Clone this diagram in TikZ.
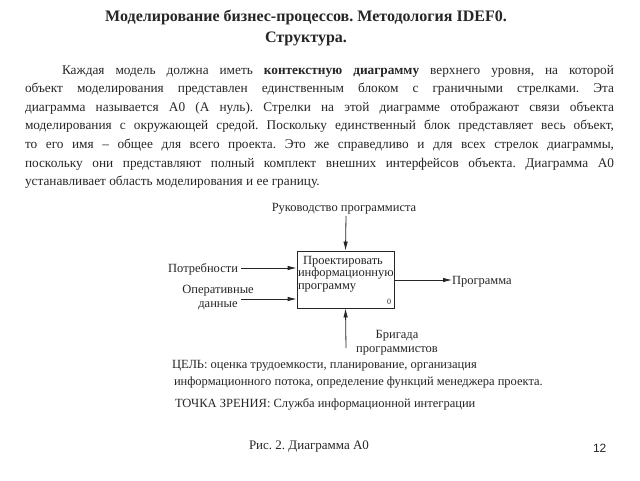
\documentclass[tikz,border=0pt]{standalone}
\usepackage{fontspec}
\setmainfont{Liberation Serif}
\newfontfamily\arialf{Liberation Sans}
\usetikzlibrary{arrows.meta}
\frenchspacing
\begin{document}
\begin{tikzpicture}[x=1pt,y=-1pt,
  txt/.style={inner sep=0pt, outer sep=0pt, text=black!85},
  lbl/.style={txt, font=\fontsize{12.5}{14}\selectfont},
  arr/.style={-{Latex[length=9pt,width=4.5pt]}, line width=0.8pt, black!85},
  blk/.style={draw=black!85, line width=0.8pt, minimum width=97pt, minimum height=57pt, inner sep=0pt}
  ]
\useasboundingbox[fill=white] (0,0) rectangle (640,480);
% title
\node[txt, font=\fontsize{16}{18}\selectfont\bfseries, anchor=base] (t1) at (306,21) {Моделирование бизнес-процессов. Методология IDEF0.};
\node[txt, font=\fontsize{16}{18}\selectfont\bfseries, anchor=base] (t2) at (306,42) {Структура.};
% paragraph
\node[txt, font=\fontsize{13.3}{18.6}\selectfont, text width=589pt, align=justify, anchor=north west] (par) at (25,65)
{\frenchspacing\hspace*{37pt}Каждая модель должна иметь \textbf{контекстную диаграмму} верхнего уровня, на которой\linebreak
объект моделирования представлен единственным блоком с граничными стрелками. Эта\linebreak
диаграмма называется А0 (А нуль). Стрелки на этой диаграмме отображают связи объекта\linebreak
моделирования с окружающей средой. Поскольку единственный блок представляет весь объект,\linebreak
то его имя -- общее для всего проекта. Это же справедливо и для всех стрелок диаграммы,\linebreak
поскольку они представляют полный комплект внешних интерфейсов объекта. Диаграмма А0\linebreak
устанавливает область моделирования и ее границу.};
% diagram
\node[blk] (box) at (345.5,279.5) {};
\node[lbl, anchor=base west] (b1) at (303,264) {Проектировать};
\node[lbl, anchor=base west] (b2) at (298,276.5) {информационную};
\node[lbl, anchor=base west] (b3) at (298,289) {программу};
\node[txt, font=\fontsize{8}{9}\selectfont, anchor=base east] (b0) at (391,304) {0};
\coordinate (c1) at (346,216);
\coordinate (c2) at (241,268);
\coordinate (c3) at (241,299);
\coordinate (c4) at (452,280);
\coordinate (c5) at (346,348);
\draw[arr] (c1) -- (box.north);
\draw[arr] (c2) -- (c2 -| box.west);
\draw[arr] (c3) -- (c3 -| box.west);
\draw[arr] (box.east |- c4) -- (c4);
\draw[arr] (c5) -- (box.south);
\node[lbl, anchor=base] (ruk) at (344,211) {Руководство программиста};
\node[lbl, anchor=base east] (potr) at (238,272) {Потребности};
\node[lbl, align=center] (oper) at (218,297.5) {Оперативные\\данные};
\node[lbl, anchor=base west] (prog) at (452,284) {Программа};
\node[lbl, align=center] (brig) at (397,343) {Бригада\\программистов};
% goal
\node[lbl, anchor=base west] (g1) at (172,368) {ЦЕЛЬ: оценка трудоемкости, планирование, организация};
\node[lbl, anchor=base west] (g2) at (174,385) {информационного потока, определение функций менеджера проекта.};
\node[lbl, anchor=base west] (g3) at (175,407) {ТОЧКА ЗРЕНИЯ: Служба информационной интеграции};
% caption
\node[txt, font=\fontsize{13}{15}\selectfont, anchor=base west] (cap) at (249,449) {Рис. 2. Диаграмма А0};
\node[txt, font=\arialf\fontsize{12}{14}\selectfont, anchor=base west] (pg) at (593,452) {12};
\end{tikzpicture}
\end{document}
